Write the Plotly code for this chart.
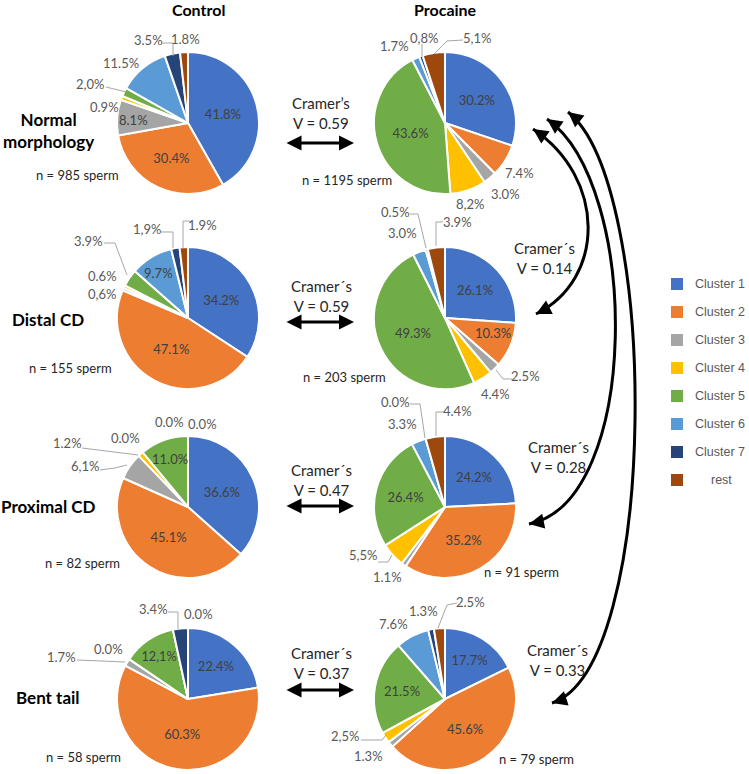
import plotly.graph_objects as go

W, H = 749, 774

clusters = ["Cluster 1", "Cluster 2", "Cluster 3", "Cluster 4",
            "Cluster 5", "Cluster 6", "Cluster 7", "rest"]
colors = ["#4472C4", "#ED7D31", "#A5A5A5", "#FFC000",
          "#70AD47", "#5B9BD5", "#264478", "#9E480E"]

groups = ["Control", "Procaine"]
rows = ["Normal<br>morphology", "Distal CD", "Proximal CD", "Bent tail"]

ctrl_normal = [41.8, 30.4, 8.1, 0.9, 2.0, 11.5, 3.5, 1.8]
proc_normal = [30.2, 7.4, 3.0, 8.2, 43.6, 1.7, 0.8, 5.1]
ctrl_distal = [34.2, 47.1, 0.6, 0.6, 3.9, 9.7, 1.9, 1.9]
proc_distal = [26.1, 10.3, 2.5, 4.4, 49.3, 3.0, 0.5, 3.9]
ctrl_proximal = [36.6, 45.1, 6.1, 1.2, 11.0, 0.0, 0.0, 0.0]
proc_proximal = [24.2, 35.2, 1.1, 5.5, 26.4, 3.3, 0.0, 4.4]
ctrl_bent = [22.4, 60.3, 1.7, 0.0, 12.1, 0.0, 3.4, 0.0]
proc_bent = [17.7, 45.6, 1.3, 2.5, 21.5, 7.6, 1.3, 2.5]

# displayed labels (as printed in the figure)
ctrl_normal_lbl = ["41.8%", "30.4%", "8.1%", "0.9%", "2,0%", "11.5%", "3.5%", "1.8%"]
proc_normal_lbl = ["30.2%", "7.4%", "3.0%", "8,2%", "43.6%", "1.7%", "0,8%", "5,1%"]
ctrl_distal_lbl = ["34.2%", "47.1%", "0,6%", "0.6%", "3.9%", "9.7%", "1,9%", "1.9%"]
proc_distal_lbl = ["26.1%", "10.3%", "2.5%", "4.4%", "49.3%", "3.0%", "0.5%", "3.9%"]
ctrl_proximal_lbl = ["36.6%", "45.1%", "6,1%", "1.2%", "11.0%", "0.0%", "0.0%", "0.0%"]
proc_proximal_lbl = ["24.2%", "35.2%", "1.1%", "5,5%", "26.4%", "3.3%", "0.0%", "4.4%"]
ctrl_bent_lbl = ["22.4%", "60.3%", "1.7%", "0.0%", "12,1%", "", "3.4%", "0.0%"]
proc_bent_lbl = ["17.7%", "45.6%", "1.3%", "2,5%", "21.5%", "7.6%", "1.3%", "2.5%"]

sample_sizes = [["n = 985 sperm", "n = 1195 sperm"],
                ["n = 155 sperm", "n = 203 sperm"],
                ["n = 82 sperm", "n = 91 sperm"],
                ["n = 58 sperm", "n = 79 sperm"]]
cramer_between = ["Cramer’s<br>V = 0.59", "Cramer´s<br>V = 0.59",
                  "Cramer´s<br>V = 0.47", "Cramer´s<br>V = 0.37"]
cramer_vs_normal = ["Cramer´s<br>V = 0.14", "Cramer´s<br>V = 0.28",
                    "Cramer´s<br>V = 0.33"]

# ---------- layout geometry (pixels) ----------
FONT = "Lato"
def P(x, y):
    return x / W, 1 - y / H

R = 71
col_x = [188, 445]
row_y = [123, 318, 507, 699]

# (values, labels, column, row, slices labelled by the pie itself)
pies = [
    (ctrl_normal, ctrl_normal_lbl, 0, 0, {0, 1}),
    (proc_normal, proc_normal_lbl, 1, 0, {0, 4}),
    (ctrl_distal, ctrl_distal_lbl, 0, 1, {0, 1}),
    (proc_distal, proc_distal_lbl, 1, 1, {0, 4}),
    (ctrl_proximal, ctrl_proximal_lbl, 0, 2, {0, 1}),
    (proc_proximal, proc_proximal_lbl, 1, 2, {0, 1, 4}),
    (ctrl_bent, ctrl_bent_lbl, 0, 3, {0, 1, 4}),
    (proc_bent, proc_bent_lbl, 1, 3, {0, 1, 4}),
]

# labels inside narrow slices, placed at fixed spots (pie -> (cluster idx, x, y))
inside_manual = {
    0: [(2, 133, 120)],
    2: [(5, 158, 273)],
    3: [(1, 493, 333)],
    4: [(4, 170, 459)],
}

# outside label placement: pie index -> list of (cluster idx, tx, ty, leader points)
outside = {
    0: [(6, 148, 40, [(161, 43), (173, 43), (173, 56)]),
        (7, 185, 39, None),
        (5, 121, 63, None),
        (4, 90, 84, [(106, 87), (126, 92)]),
        (3, 104, 107, None)],
    1: [(5, 394, 46, None),
        (6, 424, 38, [(422, 44), (422, 57)]),
        (7, 477, 38, [(463, 40), (447, 41), (434, 54)]),
        (1, 519, 173, None),
        (2, 505, 194, None),
        (3, 470, 204, None)],
    2: [(6, 147, 229, [(161, 232), (173, 232), (173, 248)]),
        (7, 203, 225, [(190, 221), (183, 221), (183, 248)]),
        (4, 88, 241, [(104, 243), (115, 243), (127, 275)]),
        (3, 102, 276, None),
        (2, 102, 294, None)],
    3: [(6, 395, 212, [(410, 214), (418, 214), (426, 248)]),
        (5, 402, 233, None),
        (7, 457, 222, [(443, 222), (436, 222), (436, 246)]),
        (2, 525, 376, [(512, 379), (503, 379), (496, 370)]),
        (3, 495, 394, None)],
    4: [(5, 125, 438, None),
        (6, 169, 422, None),
        (7, 202, 424, None),
        (3, 67, 443, [(82, 448), (138, 455)]),
        (2, 85, 466, [(100, 470), (115, 468), (127, 465)])],
    5: [(6, 395, 402, [(410, 404), (420, 404), (425, 438)]),
        (5, 402, 424, None),
        (7, 457, 411, [(443, 412), (436, 412), (436, 436)]),
        (3, 363, 555, [(378, 562), (388, 562), (392, 555)]),
        (2, 387, 577, None)],
    6: [(6, 153, 609, [(168, 612), (178, 612), (178, 629)]),
        (7, 198, 614, None),
        (3, 108, 649, None),
        (2, 62, 657, [(77, 660), (125, 662)])],
    7: [(6, 423, 611, None),
        (5, 393, 624, None),
        (7, 470, 602, [(457, 603), (447, 605), (438, 628)]),
        (3, 345, 736, [(361, 740), (382, 740), (386, 735)]),
        (2, 368, 756, None)],
}

fig = go.Figure()
annotations = []
shapes = []

def text_at(x, y, text, size, color, family=FONT, anchor="center"):
    px_, py_ = P(x, y)
    annotations.append(dict(x=px_, y=py_, xref="paper", yref="paper", text=text,
                            showarrow=False, xanchor=anchor, yanchor="middle",
                            font=dict(family=family, size=size, color=color)))

for k, (vals, lbls, ci, ri, inside_idx) in enumerate(pies):
    cx, cy = col_x[ci], row_y[ri]
    x0, y1 = P(cx - R, cy - R)
    x1, y0 = P(cx + R, cy + R)
    txt = [l if i in inside_idx else "" for i, l in enumerate(lbls)]
    fig.add_trace(go.Pie(
        labels=clusters, values=vals, text=txt,
        texttemplate="%{text}", textposition="inside",
        insidetextorientation="horizontal",
        insidetextfont=dict(family=FONT, size=13, color="#404040"),
        sort=False, direction="clockwise", rotation=0,
        marker=dict(colors=colors, line=dict(color="white", width=2)),
        domain=dict(x=[x0, x1], y=[y0, y1]),
        showlegend=False, hoverinfo="label+value",
    ))
    for (idx, tx, ty) in inside_manual.get(k, []):
        text_at(tx, ty, lbls[idx], 13, "#404040")
    for (idx, tx, ty, pts) in outside[k]:
        text_at(tx, ty, lbls[idx], 13, "#595959")
        if pts:
            path = ""
            for j, (px, py) in enumerate(pts):
                qx, qy = P(px, py)
                path += ("M" if j == 0 else " L") + f"{qx:.5f},{qy:.5f}"
            shapes.append(dict(type="path", xref="paper", yref="paper",
                               path=path, line=dict(color="#A6A6A6", width=1)))

# column titles
for g, x in zip(groups, [198, 445]):
    text_at(x, 9, f"<b>{g}</b>", 16, "black")

# row labels
row_label_y = [130, 320, 506, 697]
for r, y in zip(rows, row_label_y):
    text_at(48, y, f"<b>{r}</b>", 17, "black")

# sample sizes
n_pos = [[(77, 175), (347, 180)], [(70, 368), (344, 377)],
         [(82, 563), (521, 572)], [(83, 757), (536, 759)]]
for r in range(4):
    for c in range(2):
        text_at(*n_pos[r][c], sample_sizes[r][c], 13, "#262626")

# Cramer's V between groups with double arrows
cv_text_y = [113, 296, 480, 663]
cv_arrow_y = [143, 322, 506, 690]
for t, ty, ay in zip(cramer_between, cv_text_y, cv_arrow_y):
    text_at(321, ty, t, 15, "#262626")
    px_, py_ = P(354, ay)
    annotations.append(dict(x=px_, y=py_, xref="paper", yref="paper", text="",
                            showarrow=True, ax=-69, ay=0, arrowside="end+start",
                            arrowhead=2, startarrowhead=2, arrowsize=1, startarrowsize=1,
                            arrowwidth=3, arrowcolor="black", standoff=0, startstandoff=0))

# Cramer's V versus normal morphology (curved arrows)
cv2_pos = [(544, 258), (558, 457), (557, 660)]
for t, (x, y) in zip(cramer_vs_normal, cv2_pos):
    text_at(x, y, t, 15, "#262626")

curves = [((533, 129), (606, 178), (606, 279), (536, 314)),
          ((547, 119), (641, 185), (641, 502), (529, 524)),
          ((568, 112), (660, 185), (660, 668), (552, 703))]
for p0, c1, c2, p3 in curves:
    pts = [P(*p) for p in (p0, c1, c2, p3)]
    path = (f"M{pts[0][0]:.5f},{pts[0][1]:.5f} C{pts[1][0]:.5f},{pts[1][1]:.5f} "
            f"{pts[2][0]:.5f},{pts[2][1]:.5f} {pts[3][0]:.5f},{pts[3][1]:.5f}")
    shapes.append(dict(type="path", xref="paper", yref="paper", path=path,
                       line=dict(color="black", width=3)))
    for tip, ctrl in ((p0, c1), (p3, c2)):
        dx, dy = ctrl[0] - tip[0], ctrl[1] - tip[1]
        n = (dx * dx + dy * dy) ** 0.5
        tx_, ty_ = P(*tip)
        annotations.append(dict(x=tx_, y=ty_, xref="paper", yref="paper", text="",
                                showarrow=True, ax=dx / n * 9, ay=dy / n * 9,
                                arrowhead=2, arrowsize=1, arrowwidth=3,
                                arrowcolor="black", standoff=0))

# legend (drawn manually to match item spacing)
leg_y0, leg_dy = 284, 28
for i, (name, col) in enumerate(zip(clusters, colors)):
    y = leg_y0 + i * leg_dy
    xa, ya = P(671, y - 6)
    xb, yb = P(683, y + 6)
    shapes.append(dict(type="rect", xref="paper", yref="paper", x0=xa, x1=xb,
                       y0=yb, y1=ya, fillcolor=col, line=dict(width=0)))
    if name == "rest":
        text_at(721, y, name, 12.5, "#595959", family="Liberation Sans")
    else:
        text_at(693, y, name, 12.5, "#595959", family="Liberation Sans", anchor="left")

fig.update_layout(
    width=W, height=H, margin=dict(l=0, r=0, t=0, b=0),
    paper_bgcolor="white", plot_bgcolor="white",
    annotations=annotations, shapes=shapes, showlegend=False,
)
fig.write_html("out.html", config={"displayModeBar": False},
               post_script="document.body.style.margin='0px';")
